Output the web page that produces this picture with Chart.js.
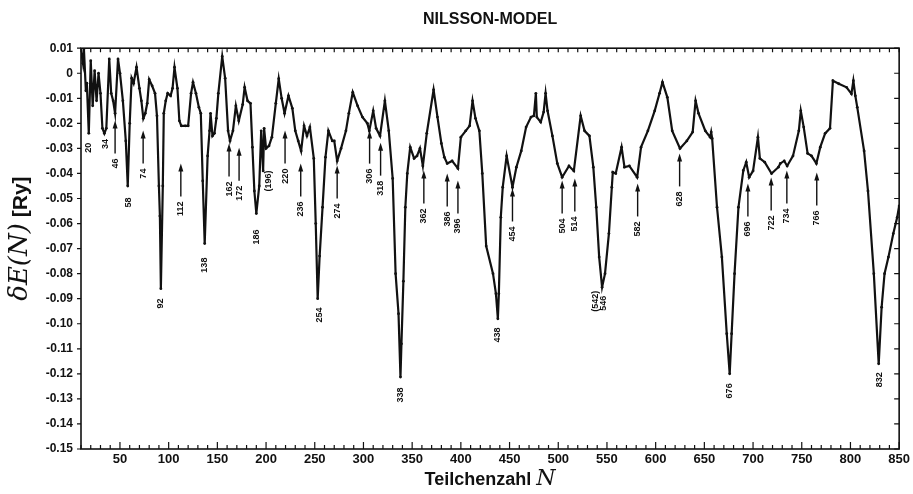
<!DOCTYPE html>
<html>
<head>
<meta charset="utf-8">
<script src="https://cdn.jsdelivr.net/npm/chart.js@4.4.1/dist/chart.umd.min.js"></script>
<style>
  html, body { margin: 0; padding: 0; background: #fff; }
  #shellChart { display: block; }
</style>
</head>
<body>
<canvas id="shellChart" width="913" height="494"></canvas>
<script>
// particle number N and shell-correction energy dE(N) in Ry
const nVals = [10, 12, 13, 15, 16, 18, 20, 22, 24, 26, 28, 30, 32, 34, 36, 39, 41, 43, 45, 48,
  50, 53, 56, 58, 60, 62, 64, 67, 70, 72, 74, 76, 78, 80, 83, 86, 88, 90, 91, 92,
  94, 95, 97, 99, 102, 104, 106, 109, 111, 113, 117, 120, 123, 125, 128, 131, 133, 135, 137, 140,
  142, 143, 145, 147, 149, 151, 155, 158, 161, 163, 166, 169, 172, 176, 178, 181, 184, 186, 188, 190,
  193, 195, 197, 198, 200, 203, 206, 210, 213, 216, 219, 223, 227, 230, 233, 236, 239, 242, 245, 249,
  251, 253, 255, 258, 261, 264, 268, 270, 273, 277, 282, 285, 289, 294, 299, 304, 306, 310, 313, 317,
  322, 326, 330, 333, 336, 338, 339, 341, 343, 345, 348, 352, 355, 358, 361, 365, 372, 376, 380, 383,
  386, 391, 397, 400, 405, 409, 412, 415, 419, 422, 426, 433, 436, 438, 439, 441, 443, 447, 453, 457,
  462, 467, 472, 475, 477, 478, 482, 485, 487, 489, 494, 499, 504, 511, 516, 523, 527, 532, 536, 539,
  542, 545, 548, 552, 555, 556, 559, 565, 568, 573, 581, 585, 592, 599, 604, 607, 612, 617, 625, 632,
  638, 641, 644, 651, 656, 657, 658, 663, 668, 673, 676, 678, 681, 685, 690, 693, 696, 700, 705, 707,
  712, 719, 726, 728, 732, 735, 741, 747, 749, 752, 756, 760, 765, 769, 774, 779, 782, 788, 796, 801,
  803, 805, 807, 814, 818, 824, 829, 832, 835, 839, 844, 848, 850];
const dE = [0.009, 0.004, 0.0097, -0.007, -0.004, -0.024, 0.005, -0.013, 0.001, -0.011, 0.0, -0.008, -0.022, -0.024, -0.022, 0.0057, -0.008, -0.011, -0.016, 0.0057,
  0.0, -0.011, -0.027, -0.045, -0.02, -0.002, -0.004, 0.0024, -0.006, -0.011, -0.018, -0.016, -0.012, -0.0025, -0.005, -0.008, -0.017, -0.045, -0.057, -0.086,
  -0.045, -0.016, -0.011, -0.008, -0.009, -0.006, 0.0024, -0.006, -0.019, -0.021, -0.021, -0.021, -0.008, -0.0036, -0.008, -0.0136, -0.016, -0.043, -0.068, -0.033,
  -0.023, -0.016, -0.025, -0.024, -0.018, -0.008, 0.0067, -0.002, -0.023, -0.027, -0.023, -0.013, -0.019, -0.0125, -0.0056, -0.011, -0.012, -0.0295, -0.047, -0.056,
  -0.045, -0.023, -0.039, -0.022, -0.03, -0.029, -0.0255, -0.012, -0.0022, -0.01, -0.016, -0.009, -0.014, -0.023, -0.027, -0.031, -0.021, -0.025, -0.0215, -0.034,
  -0.06, -0.09, -0.073, -0.0535, -0.0335, -0.023, -0.027, -0.027, -0.035, -0.03, -0.023, -0.016, -0.0076, -0.013, -0.0175, -0.02, -0.023, -0.015, -0.022, -0.025,
  -0.011, -0.023, -0.042, -0.08, -0.096, -0.1213, -0.108, -0.083, -0.0535, -0.04, -0.0295, -0.034, -0.033, -0.03, -0.037, -0.024, -0.0066, -0.0175, -0.028, -0.0335,
  -0.036, -0.035, -0.038, -0.0255, -0.023, -0.021, -0.011, -0.018, -0.023, -0.04, -0.069, -0.08, -0.088, -0.098, -0.088, -0.0575, -0.0455, -0.033, -0.0455, -0.0375,
  -0.031, -0.0215, -0.0175, -0.017, -0.008, -0.0175, -0.0195, -0.0155, -0.008, -0.015, -0.025, -0.036, -0.0415, -0.037, -0.039, -0.017, -0.023, -0.025, -0.0375, -0.0535,
  -0.0734, -0.0854, -0.08, -0.064, -0.0455, -0.0395, -0.04, -0.0295, -0.0375, -0.037, -0.0415, -0.0295, -0.023, -0.015, -0.008, -0.0036, -0.0096, -0.023, -0.03, -0.027,
  -0.0235, -0.011, -0.016, -0.023, -0.0255, -0.0235, -0.026, -0.0535, -0.0734, -0.104, -0.12, -0.104, -0.08, -0.0535, -0.0388, -0.0355, -0.0415, -0.039, -0.0255, -0.034,
  -0.0355, -0.04, -0.0375, -0.036, -0.035, -0.037, -0.033, -0.023, -0.015, -0.0215, -0.032, -0.033, -0.036, -0.0295, -0.024, -0.022, -0.003, -0.0042, -0.0056, -0.0082,
  -0.003, -0.009, -0.0136, -0.031, -0.047, -0.08, -0.116, -0.0934, -0.08, -0.0734, -0.064, -0.0575, -0.053];

// tick labels
const xTickVals = [50, 100, 150, 200, 250, 300, 350, 400, 450, 500, 550, 600, 650, 700, 750, 800, 850];
const yTickVals = [0.01, 0, -0.01, -0.02, -0.03, -0.04, -0.05, -0.06, -0.07, -0.08, -0.09, -0.10, -0.11, -0.12, -0.13, -0.14, -0.15];

// magic-number marks: where they sit (N), text, top value, with/without arrow
const markX = [18, 35.6, 45, 58.8, 73.8, 92, 112.5, 137, 162, 172.3, 190.5, 203, 219.5, 235.6, 254.4, 273, 306.3, 317.6, 337.6, 362,
  386, 397, 438, 453, 504, 517, 538.6, 546.9, 581.5, 624.6, 676, 694.7, 718.6, 734.7, 765.4, 829.4];
const markText = ['20', '34', '46', '58', '74', '92', '112', '138', '162', '172', '186', '(196)', '220', '236', '254', '274', '306', '318', '338', '362',
  '386', '396', '438', '454', '504', '514', '(542)', '546', '582', '628', '676', '696', '722', '734', '766', '832'];
const markTop = [-0.0277, -0.0262, -0.0189, -0.0496, -0.0229, -0.0899, -0.036, -0.0736, -0.028, -0.0297, -0.0624, -0.0388, -0.0229, -0.036, -0.0935, -0.0368, -0.0229, -0.0277, -0.1254, -0.0388,
  -0.040, -0.0428, -0.1015, -0.046, -0.0428, -0.042, -0.0868, -0.0888, -0.044, -0.032, -0.1238, -0.044, -0.0416, -0.0388, -0.0396, -0.1194];
const markArrow = [false, false, true, false, true, false, true, false, true, true, false, false, true, true, false, true, true, true, false, true,
  true, true, false, true, true, true, false, false, true, true, false, true, true, true, true, false];

const INK = '#111';
const SANS = '"Liberation Sans", Arial, sans-serif';

const framePlugin = {
  id: 'frame',
  afterDatasetsDraw(chart) {
    const { ctx, chartArea: a, scales: { x, y } } = chart;
    ctx.save();
    ctx.strokeStyle = INK;
    ctx.fillStyle = INK;

    // frame
    ctx.lineWidth = 1.6;
    ctx.strokeRect(a.left, a.top, a.right - a.left, a.bottom - a.top);

    // x ticks, inward on bottom and top, every 10
    ctx.lineWidth = 1.2;
    ctx.beginPath();
    for (let n = 10; n <= 850; n += 10) {
      const px = x.getPixelForValue(n);
      const len = n % 50 === 0 ? 7 : 4;
      ctx.moveTo(px, a.bottom); ctx.lineTo(px, a.bottom - len);
      ctx.moveTo(px, a.top); ctx.lineTo(px, a.top + 4);
    }
    // y ticks: outward on the left, inward on the right
    yTickVals.forEach(v => {
      const py = y.getPixelForValue(v);
      ctx.moveTo(a.left, py); ctx.lineTo(a.left - 4, py);
      ctx.moveTo(a.right, py); ctx.lineTo(a.right - 5, py);
    });
    ctx.stroke();

    // marks
    const arrowLen = 33;
    ctx.font = 'bold 9px ' + SANS;
    markX.forEach((n, i) => {
      const px = x.getPixelForValue(n);
      let top = y.getPixelForValue(markTop[i]);
      if (markArrow[i]) {
        ctx.lineWidth = 1.4;
        ctx.beginPath();
        ctx.moveTo(px, top + 4);
        ctx.lineTo(px, top + arrowLen);
        ctx.stroke();
        ctx.beginPath();
        ctx.moveTo(px, top);
        ctx.lineTo(px - 2.5, top + 8);
        ctx.lineTo(px + 2.5, top + 8);
        ctx.closePath();
        ctx.fill();
        top += arrowLen + 5;
      }
      ctx.save();
      ctx.translate(px, top);
      ctx.rotate(-Math.PI / 2);
      ctx.textAlign = 'right';
      ctx.textBaseline = 'middle';
      ctx.fillText(markText[i], 0, 0);
      ctx.restore();
    });

    // axis titles
    const sansB = 'bold 18px ' + SANS;
    const serifI = 'italic 22px "DejaVu Serif", "Liberation Serif", serif';
    ctx.textBaseline = 'alphabetic';
    ctx.textAlign = 'left';
    const xt1 = 'Teilchenzahl ';
    ctx.font = sansB;
    const w1 = ctx.measureText(xt1).width;
    ctx.font = serifI;
    const w2 = ctx.measureText('N').width;
    const sx = (a.left + a.right) / 2 - (w1 + w2) / 2;
    ctx.font = sansB;
    ctx.fillText(xt1, sx, 485);
    ctx.font = serifI;
    ctx.fillText('N', sx + w1, 485);

    // y title, rotated
    ctx.save();
    ctx.translate(27, (a.top + a.bottom) / 2 - 10);
    ctx.rotate(-Math.PI / 2);
    const yFont = 'italic 26px "DejaVu Serif", "Liberation Serif", serif';
    const parts = [['δE(', yFont], ['N', yFont], [')', yFont], [' [Ry]', 'bold 21px ' + SANS]];
    let total = 0;
    parts.forEach(p => { ctx.font = p[1]; total += ctx.measureText(p[0]).width; });
    let cx = -total / 2;
    parts.forEach(p => { ctx.font = p[1]; ctx.fillText(p[0], cx, 0); cx += ctx.measureText(p[0]).width; });
    ctx.restore();

    ctx.restore();
  }
};

new Chart(document.getElementById('shellChart'), {
  type: 'line',
  data: {
    datasets: [{
      data: nVals.map((n, i) => ({ x: n, y: dE[i] })),
      borderColor: INK,
      backgroundColor: INK,
      borderWidth: 2.2,
      pointRadius: 1.4,
      pointBackgroundColor: INK,
      pointBorderWidth: 0,
      tension: 0,
      fill: false
    }]
  },
  options: {
    responsive: false,
    animation: false,
    devicePixelRatio: 1,
    layout: { padding: { left: 0, right: 13, top: 0, bottom: 0 } },
    plugins: {
      legend: { display: false },
      tooltip: { enabled: false },
      title: {
        display: true,
        fullSize: false,
        text: 'NILSSON-MODEL',
        color: INK,
        font: { family: SANS, size: 16, weight: 'bold' },
        padding: { top: 10, bottom: 19 }
      }
    },
    scales: {
      x: {
        type: 'linear',
        min: 10,
        max: 850,
        grid: { display: false, drawTicks: false },
        border: { display: false },
        afterBuildTicks: s => { s.ticks = xTickVals.map(v => ({ value: v })); },
        afterFit: s => { s.height = 45; },
        ticks: {
          color: INK,
          padding: 3,
          maxRotation: 0,
          autoSkip: false,
          font: { family: SANS, size: 13, weight: 'bold' }
        }
      },
      y: {
        min: -0.15,
        max: 0.01,
        grid: { display: false, drawTicks: false },
        border: { display: false },
        afterBuildTicks: s => { s.ticks = yTickVals.map(v => ({ value: v })); },
        afterFit: s => { s.width = 81; },
        ticks: {
          color: INK,
          padding: 8,
          autoSkip: false,
          font: { family: SANS, size: 12, weight: 'bold' },
          callback: v => (Math.abs(v) < 1e-9 ? '0' : v.toFixed(2))
        }
      }
    }
  },
  plugins: [framePlugin]
});
</script>
</body>
</html>
